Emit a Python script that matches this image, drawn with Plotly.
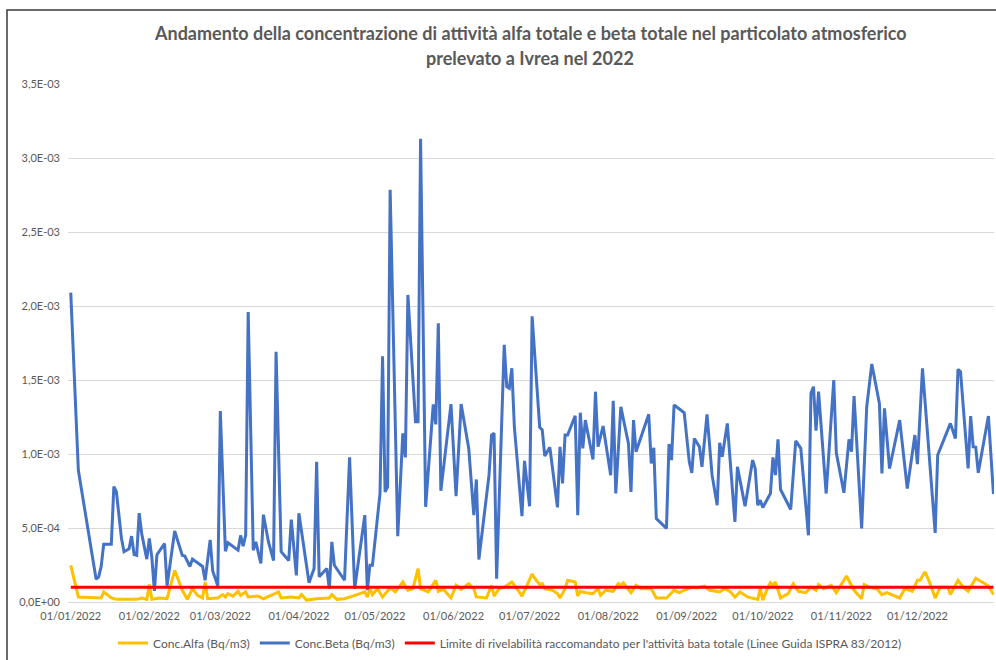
import numpy as np
import pandas as pd
import plotly.graph_objects as go

# Giorno dell'anno (0 = 01/01/2022) e concentrazioni in mBq/m3
giorni_alfa = [
    0, 3, 12, 13, 16, 18, 26, 28, 30, 31,
    32, 35, 38, 41, 44, 46, 48, 50, 52, 53,
    54, 58, 60, 61, 62, 64, 66, 67, 69, 70,
    74, 76, 79, 82, 83, 87, 90, 91, 93, 97,
    102, 103, 105, 108, 113, 116, 117, 118, 119, 121,
    123, 126, 128, 131, 133, 135, 137, 138, 141, 144,
    145, 147, 150, 152, 154, 157, 159, 160, 164, 166,
    167, 169, 171, 174, 176, 178, 180, 182, 183, 185,
    186, 187, 190, 192, 193, 195, 196, 199, 200, 201,
    203, 206, 208, 209, 211, 214, 216, 217, 218, 220,
    221, 223, 225, 229, 231, 235, 238, 240, 245, 247,
    250, 252, 256, 258, 260, 262, 264, 267, 269, 271,
    272, 273, 275, 276, 277, 278, 280, 283, 285, 287,
    290, 292, 294, 295, 297, 300, 302, 306, 309, 312,
    313, 315, 318, 320, 322, 327, 329, 332, 334, 335,
    337, 339, 341, 343, 346, 347, 350, 352, 354, 357,
    360, 362, 364,
]
alfa_mbq = [
    0.248, 0.034, 0.027, 0.068, 0.027, 0.018, 0.018, 0.027, 0.018, 0.118,
    0.018, 0.027, 0.022, 0.214, 0.079, 0.018, 0.090, 0.045, 0.027, 0.135,
    0.022, 0.027, 0.050, 0.034, 0.057, 0.040, 0.072, 0.045, 0.068, 0.034,
    0.040, 0.022, 0.045, 0.068, 0.027, 0.034, 0.027, 0.050, 0.013, 0.022,
    0.027, 0.050, 0.018, 0.022, 0.050, 0.068, 0.034, 0.090, 0.050, 0.090,
    0.034, 0.095, 0.068, 0.135, 0.079, 0.090, 0.226, 0.090, 0.068, 0.147,
    0.072, 0.086, 0.027, 0.113, 0.086, 0.124, 0.090, 0.034, 0.027, 0.113,
    0.040, 0.090, 0.100, 0.135, 0.090, 0.040, 0.113, 0.190, 0.160, 0.118,
    0.124, 0.090, 0.079, 0.057, 0.027, 0.090, 0.147, 0.135, 0.040, 0.072,
    0.063, 0.057, 0.090, 0.045, 0.079, 0.072, 0.124, 0.113, 0.130, 0.090,
    0.063, 0.113, 0.090, 0.090, 0.027, 0.027, 0.079, 0.063, 0.100, 0.095,
    0.108, 0.079, 0.068, 0.090, 0.072, 0.034, 0.068, 0.034, 0.027, 0.018,
    0.090, 0.013, 0.100, 0.130, 0.113, 0.135, 0.027, 0.057, 0.124, 0.072,
    0.063, 0.100, 0.079, 0.118, 0.090, 0.113, 0.063, 0.176, 0.079, 0.022,
    0.118, 0.100, 0.090, 0.050, 0.063, 0.027, 0.090, 0.072, 0.147, 0.147,
    0.203, 0.124, 0.027, 0.100, 0.100, 0.050, 0.147, 0.100, 0.072, 0.160,
    0.130, 0.108, 0.050,
]

giorni_beta = [
    0, 3, 10, 11, 12, 13, 16, 17, 18, 20,
    21, 23, 24, 25, 26, 27, 28, 30, 31, 32,
    33, 34, 37, 38, 41, 44, 45, 47, 48, 52,
    53, 55, 56, 58, 59, 61, 62, 66, 67, 68,
    69, 70, 72, 73, 75, 76, 78, 80, 81, 83,
    86, 87, 89, 90, 94, 96, 97, 98, 101, 102,
    103, 104, 108, 110, 112, 116, 117, 118, 119, 122,
    123, 124, 125, 126, 129, 131, 132, 133, 136, 137,
    138, 140, 143, 144, 145, 146, 150, 152, 154, 157,
    159, 160, 161, 165, 166, 167, 168, 171, 172, 173,
    174, 175, 178, 179, 181, 182, 185, 186, 187, 189,
    192, 193, 194, 195, 196, 199, 200, 201, 202, 203,
    206, 207, 208, 210, 213, 214, 215, 217, 220, 221,
    222, 223, 228, 229, 230, 231, 235, 236, 237, 238,
    241, 242, 244, 245, 246, 248, 249, 251, 253, 255,
    256, 257, 259, 262, 263, 266, 269, 270, 271, 272,
    273, 276, 277, 278, 279, 280, 284, 286, 288, 291,
    292, 293, 294, 295, 298, 301, 302, 305, 307, 308,
    309, 312, 314, 316, 319, 320, 321, 323, 327, 330,
    333, 334, 336, 341, 342, 347, 349, 350, 351, 354,
    355, 356, 357, 358, 362, 364,
]
beta_mbq = [
    2.090, 0.890, 0.154, 0.170, 0.240, 0.390, 0.390, 0.780, 0.745, 0.430,
    0.340, 0.360, 0.445, 0.320, 0.315, 0.600, 0.460, 0.290, 0.430, 0.300,
    0.075, 0.320, 0.395, 0.110, 0.480, 0.315, 0.310, 0.240, 0.290, 0.240,
    0.147, 0.420, 0.210, 0.110, 1.290, 0.343, 0.400, 0.350, 0.450, 0.377,
    0.450, 1.960, 0.350, 0.406, 0.260, 0.590, 0.406, 0.280, 1.690, 0.340,
    0.280, 0.557, 0.180, 0.600, 0.130, 0.226, 0.947, 0.170, 0.226, 0.090,
    0.406, 0.248, 0.147, 0.977, 0.090, 0.587, 0.080, 0.248, 0.248, 0.733,
    1.660, 0.744, 0.778, 2.785, 0.444, 1.140, 0.977, 2.075, 1.218, 1.218,
    3.130, 0.643, 1.335, 1.200, 1.884, 0.751, 1.337, 0.715, 1.337, 1.038,
    0.587, 0.828, 0.287, 0.857, 1.128, 1.140, 0.158, 1.737, 1.455, 1.444,
    1.579, 1.184, 0.580, 0.954, 0.647, 1.930, 1.180, 1.162, 0.986, 1.045,
    0.639, 1.049, 0.801, 1.128, 1.128, 1.258, 0.587, 1.279, 1.038, 1.229,
    0.963, 1.421, 1.049, 1.189, 0.857, 1.360, 0.733, 1.319, 1.072, 0.744,
    1.229, 1.015, 1.268, 0.936, 1.042, 0.564, 0.497, 1.067, 0.959, 1.331,
    1.292, 1.279, 0.947, 0.873, 1.105, 1.049, 0.913, 1.268, 0.857, 0.654,
    1.076, 0.981, 1.207, 0.541, 0.913, 0.647, 0.959, 0.902, 0.654, 0.688,
    0.639, 0.733, 0.977, 0.857, 1.099, 0.760, 0.625, 1.089, 1.038, 0.451,
    1.410, 1.455, 1.157, 1.421, 0.733, 1.500, 1.008, 0.738, 1.099, 1.015,
    1.392, 0.497, 1.319, 1.608, 1.342, 0.869, 1.308, 0.902, 1.229, 0.767,
    1.128, 0.932, 1.579, 0.467, 0.993, 1.207, 1.105, 1.572, 1.556, 0.902,
    1.256, 1.049, 1.045, 0.873, 1.256, 0.729,
]

# Limite di rivelabilita' (Bq/m3) e periodo di riferimento
limite_beta = 1.0e-4
giorni_limite = [0, 364]

nomi_serie = [
    "Conc.Alfa (Bq/m3)",
    "Conc.Beta (Bq/m3)",
    "Limite di rivelabilità raccomandato per l'attività bata totale (Linee Guida ISPRA 83/2012)",
]
titolo = ("Andamento della concentrazione di attività alfa totale e beta totale nel particolato atmosferico",
          "prelevato a Ivrea nel 2022")
tick_y = [0, 5e-4, 1e-3, 1.5e-3, 2e-3, 2.5e-3, 3e-3, 3.5e-3]

inizio = pd.Timestamp("2022-01-01")


def to_date(giorni):
    return inizio + pd.to_timedelta(np.asarray(giorni), unit="D")


alfa = np.asarray(alfa_mbq) * 1e-3
beta = np.asarray(beta_mbq) * 1e-3

W, H = 996, 660
ML, MR, MT, MB = 68, 2, 84, 58
PW, PH = W - ML - MR, H - MT - MB


def px(xp):
    return (xp - ML) / PW


def py(yp):
    return (H - MB - yp) / PH


FONT = "Lato, 'Open Sans', sans-serif"
GREY = "#595959"

fig = go.Figure()
fig.add_trace(go.Scatter(x=to_date(giorni_alfa), y=alfa, mode="lines", name=nomi_serie[0],
                         line=dict(color="#ffc000", width=3)))
fig.add_trace(go.Scatter(x=to_date(giorni_beta), y=beta, mode="lines", name=nomi_serie[1],
                         line=dict(color="#4472c4", width=3)))
fig.add_trace(go.Scatter(x=to_date(giorni_limite), y=[limite_beta] * len(giorni_limite),
                         mode="lines", name=nomi_serie[2],
                         line=dict(color="#ff0000", width=3)))

x0 = inizio - pd.Timedelta(hours=26)
x1 = inizio + pd.Timedelta(days=364, hours=5)

fig.update_layout(
    width=W, height=H,
    margin=dict(l=ML, r=MR, t=MT, b=MB),
    paper_bgcolor="white", plot_bgcolor="white",
    font=dict(family=FONT, color=GREY, size=11),
    showlegend=True,
    legend=dict(orientation="h", x=px(510), xanchor="center", y=py(643), yanchor="middle",
                font=dict(size=12, color=GREY), bgcolor="rgba(0,0,0,0)",
                traceorder="normal"),
    xaxis=dict(type="date", range=[x0, x1], tick0="2022-01-01", dtick="M1",
               tickformat="%d/%m/%Y", showgrid=False, zeroline=False,
               showline=False, ticks="", ticklabelstandoff=6,
               tickfont=dict(size=11, color=GREY)),
    yaxis=dict(range=[0, 3.5e-3], tickvals=tick_y,
               ticktext=[f"{v:.1E}".replace(".", ",") for v in tick_y],
               showgrid=True, gridcolor="#d9d9d9", gridwidth=1,
               zeroline=True, zerolinecolor="#d9d9d9", zerolinewidth=1,
               showline=False, ticks="", ticklabelstandoff=7,
               tickfont=dict(size=11, color=GREY)),
    annotations=[
        dict(text=f"<b>{titolo[0]}</b>", x=px(530), y=py(33), xref="paper", yref="paper",
             showarrow=False, xanchor="center", yanchor="middle",
             font=dict(size=18, color=GREY, family=FONT)),
        dict(text=f"<b>{titolo[1]}</b>", x=px(530), y=py(58), xref="paper", yref="paper",
             showarrow=False, xanchor="center", yanchor="middle",
             font=dict(size=18, color=GREY, family=FONT)),
    ],
    shapes=[
        dict(type="rect", xref="paper", yref="paper",
             x0=px(7), x1=px(1005), y0=py(670), y1=py(10),
             line=dict(color="#3a3a3a", width=1.5), fillcolor="rgba(0,0,0,0)", layer="above"),
    ],
)

fig.write_html("out.html")
